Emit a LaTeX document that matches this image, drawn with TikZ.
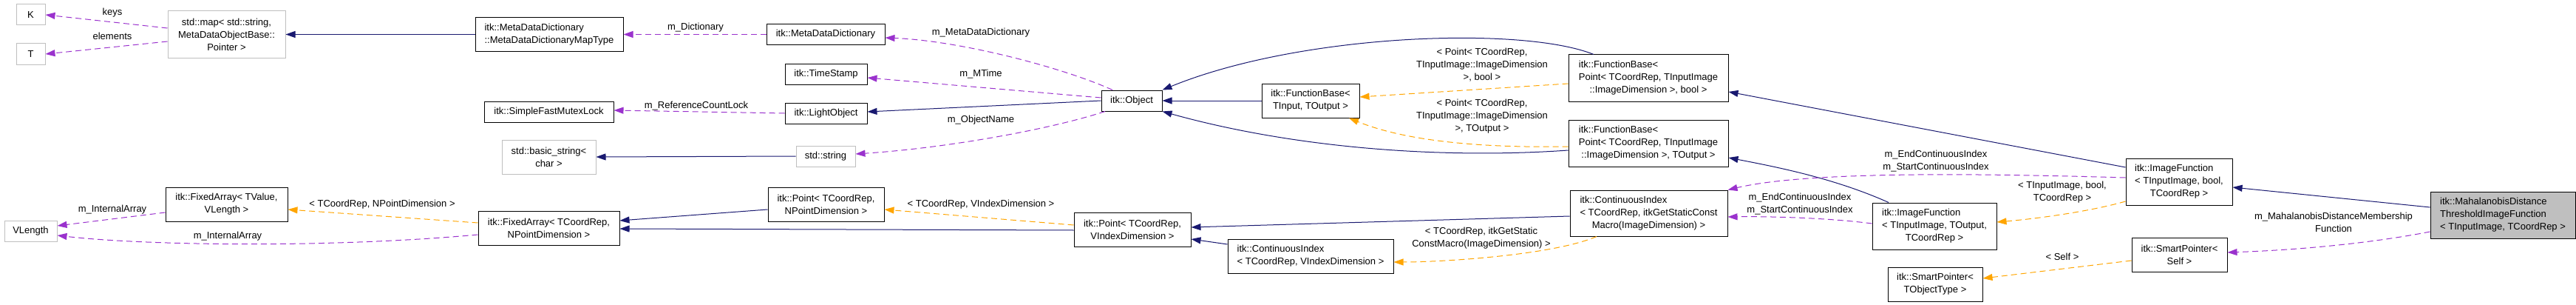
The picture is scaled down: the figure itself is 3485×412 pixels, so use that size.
\documentclass[tikz,border=0pt]{standalone}
\usepackage{fontspec}
\setmainfont{Liberation Sans}
\usetikzlibrary{arrows.meta}
\definecolor{midblue}{RGB}{25,25,112}
\definecolor{orchid}{RGB}{154,50,205}
\definecolor{tplorange}{RGB}{255,165,0}
\definecolor{grey75}{RGB}{191,191,191}
\newcommand{\dxfont}{\fontsize{13}{17}\selectfont}
\newcommand{\lft}[2]{\begin{tabular}{@{}l@{}}#1\\\multicolumn{1}{@{}c@{}}{#2}\end{tabular}}
\tikzset{
  sz/.style 2 args={minimum width=#1pt, minimum height=#2pt},
  cls/.style={draw=black, line width=1pt, fill=white, inner sep=0pt, font=\dxfont, align=center},
  ext/.style={cls, draw=grey75},
  root/.style={cls, fill=grey75},
  tip/.style={-{Triangle[length=13pt,width=9pt]}},
  inh/.style={draw=midblue, line width=1pt, tip},
  use/.style={draw=orchid, line width=1pt, dash pattern=on 8pt off 5pt, tip},
  tpl/.style={draw=tplorange, line width=1pt, dash pattern=on 8pt off 5pt, tip},
  lbl/.style={font=\dxfont, align=center, inner sep=0pt}
}
\begin{document}
\begin{tikzpicture}[x=1pt, y=-1pt]
 \useasboundingbox (0,0) rectangle (3485,412);

 % Klassen
 \node[ext, sz={39}{28}] (K) at (41.5,20) {K};
 \node[ext, sz={39}{28}] (T) at (41.5,73) {T};
 \node[ext, sz={159}{63}] (map) at (306.5,46.5) {std::map< std::string,\\MetaDataObjectBase::\\Pointer >};
 \node[ext, sz={71}{28}] (vlen) at (41.5,312) {VLength};
 \node[cls, sz={165}{46}] (faTV) at (306.5,276) {itk::FixedArray< TValue,\\VLength >};
 \node[cls, sz={200}{46}] (mapType) at (743,46.5) {\lft{itk::MetaDataDictionary}{::MetaDataDictionaryMapType}};
 \node[cls, sz={175}{28}] (mutex) at (742.5,151) {itk::SimpleFastMutexLock};
 \node[ext, sz={127}{46}] (basicStr) at (742.5,212) {std::basic\_string<\\char >};
 \node[cls, sz={191}{46}] (faN) at (742.5,308) {itk::FixedArray< TCoordRep,\\NPointDimension >};
 \node[cls, sz={160}{28}] (mdd) at (1117,46.5) {itk::MetaDataDictionary};
 \node[cls, sz={111}{28}] (timeStamp) at (1117.5,100) {itk::TimeStamp};
 \node[cls, sz={111}{28}] (lightObj) at (1117.5,153) {itk::LightObject};
 \node[ext, sz={80}{28}] (stdStr) at (1117,211) {std::string};
 \node[cls, sz={157}{46}] (pointN) at (1117.5,276) {itk::Point< TCoordRep,\\NPointDimension >};
 \node[cls, sz={82}{28}] (object) at (1531,136) {itk::Object};
 \node[cls, sz={158}{46}] (pointV) at (1532,310) {itk::Point< TCoordRep,\\VIndexDimension >};
 \node[cls, sz={132}{46}] (fbTT) at (1773,136) {itk::FunctionBase<\\TInput, TOutput >};
 \node[cls, sz={224}{46}] (ciV) at (1773,346) {\lft{itk::ContinuousIndex}{< TCoordRep, VIndexDimension >}};
 \node[cls, sz={216}{63}] (fbBool) at (2230,105.5) {\lft{itk::FunctionBase<\\Point< TCoordRep, TInputImage}{::ImageDimension >, bool >}};
 \node[cls, sz={216}{63}] (fbOut) at (2230,193.5) {\lft{itk::FunctionBase<\\Point< TCoordRep, TInputImage}{::ImageDimension >, TOutput >}};
 \node[cls, sz={213}{62}] (ciItk) at (2230.5,288) {\lft{itk::ContinuousIndex\\< TCoordRep, itkGetStaticConst}{Macro(ImageDimension) >}};
 \node[cls, sz={168}{63}] (ifOut) at (2617,305.5) {\lft{itk::ImageFunction\\< TInputImage, TOutput,}{TCoordRep >}};
 \node[cls, sz={128}{46}] (spTO) at (2618,384) {itk::SmartPointer<\\TObjectType >};
 \node[cls, sz={144}{63}] (ifBool) at (2948,245.5) {\lft{itk::ImageFunction\\< TInputImage, bool,}{TCoordRep >}};
 \node[cls, sz={129}{46}] (spSelf) at (2948.5,344) {itk::SmartPointer<\\Self >};
 \node[root, sz={196}{63}] (mahal) at (3386,290.5) {\lft{itk::MahalanobisDistance\\ThresholdImageFunction}{< TInputImage, TCoordRep >}};

 % Vererbung
 \draw[inh] (mapType.west) -- (map.east);
 \draw[inh] (stdStr.west) -- (basicStr.east);
 \draw[inh] (object.west) -- ([yshift=2pt]lightObj.east);
 \draw[inh] (fbTT.west) -- (object.east);
 \draw[inh] ([xshift=-74pt]fbBool.north) .. controls (2060,35) and (1760,45) .. (object.north east);
 \draw[inh] ([yshift=-9.5pt]fbOut.west) .. controls (1950,215) and (1750,200) .. (object.south east);
 \draw[inh] ([yshift=19.5pt]ifBool.west) -- ([yshift=-18.5pt]fbBool.east);
 \draw[inh] ([xshift=-62pt]ifOut.north) .. controls (2480,240) and (2400,225) .. ([yshift=-19.5pt]fbOut.east);
 \draw[inh] ([yshift=-4pt]ciItk.west) -- ([yshift=3pt]pointV.east);
 \draw[inh] ([yshift=16pt]ciV.west) -- ([yshift=-13pt]pointV.east);
 \draw[inh] ([yshift=-1pt]pointV.west) -- ([yshift=-1pt]faN.east);
 \draw[inh] ([yshift=-7pt]pointN.west) -- ([yshift=10pt]faN.east);
 \draw[inh] ([yshift=10.5pt]mahal.west) -- ([yshift=-7.5pt]ifBool.east);

 % Verwendung
 \draw[use] ([yshift=8.5pt]map.west) -- (K.east);
 \draw[use] ([yshift=-9.5pt]map.west) -- (T.east);
 \draw[use] (mdd.west) -- (mapType.east);
 \draw[use] (lightObj.west) -- ([yshift=2pt]mutex.east);
 \draw[use] ([xshift=-26pt]object.north) .. controls (1440,92) and (1300,55) .. ([yshift=-4.5pt]mdd.east);
 \draw[use] ([yshift=4pt]object.west) -- ([yshift=-5pt]timeStamp.east);
 \draw[use] ([xshift=-36pt]object.south) .. controls (1420,175) and (1280,200) .. ([yshift=3pt]stdStr.east);
 \draw[use] ([yshift=5.5pt]ifBool.west) .. controls (2700,235) and (2450,230) .. (ciItk.north east);
 \draw[use] ([yshift=3.5pt]ifOut.west) .. controls (2480,295) and (2400,292) .. ([yshift=-5pt]ciItk.east);
 \draw[use] ([yshift=-11pt]faTV.west) -- ([yshift=7pt]vlen.east);
 \draw[use] ([yshift=-9pt]faN.west) .. controls (450,335) and (200,332) .. ([yshift=-6pt]vlen.east);
 \draw[use] ([yshift=-22.5pt]mahal.west) .. controls (3200,330) and (3100,338) .. ([yshift=3pt]spSelf.east);

 % Template-Instanzen
 \draw[tpl] ([yshift=-7.5pt]fbBool.west) -- ([yshift=5pt]fbTT.east);
 \draw[tpl] ([yshift=-4.5pt]fbOut.west) .. controls (2000,200) and (1900,190) .. ([xshift=52pt]fbTT.south);
 \draw[tpl] ([xshift=-70.5pt]ciItk.south) .. controls (2100,345) and (1950,354) .. ([yshift=-8pt]ciV.east);
 \draw[tpl] ([yshift=6pt]pointV.west) -- ([yshift=-7pt]pointN.east);
 \draw[tpl] ([yshift=7pt]faN.west) -- ([yshift=-7pt]faTV.east);
 \draw[tpl] ([yshift=-8pt]spSelf.west) -- ([yshift=8pt]spTO.east);
 \draw[tpl] ([yshift=-26.5pt]ifBool.west) .. controls (2830,285) and (2760,295) .. ([yshift=5.5pt]ifOut.east);

 % Beschriftungen
 \node[lbl] (lKeys) at (152,17) {keys};
 \node[lbl] (lElem) at (152,49) {elements};
 \node[lbl] (lDict) at (941,37) {m\_Dictionary};
 \node[lbl] (lLock) at (942,143) {m\_ReferenceCountLock};
 \node[lbl] (lMdd) at (1327,44) {m\_MetaDataDictionary};
 \node[lbl] (lTime) at (1327,100) {m\_MTime};
 \node[lbl] (lName) at (1327,162) {m\_ObjectName};
 \node[lbl] (lPtBool) at (2005,88) {< Point< TCoordRep,\\TInputImage::ImageDimension\\>, bool >};
 \node[lbl] (lPtOut) at (2005,157) {< Point< TCoordRep,\\TInputImage::ImageDimension\\>, TOutput >};
 \node[lbl] (lCiItk) at (2004,322) {< TCoordRep, itkGetStatic\\ConstMacro(ImageDimension) >};
 \node[lbl] (lIdxTop) at (2619,218) {m\_EndContinuousIndex\\m\_StartContinuousIndex};
 \node[lbl] (lIdxLow) at (2435,276) {m\_EndContinuousIndex\\m\_StartContinuousIndex};
 \node[lbl] (lIfBool) at (2790,260) {< TInputImage, bool,\\TCoordRep >};
 \node[lbl] (lMember) at (3157,300) {m\_MahalanobisDistanceMembership\\Function};
 \node[lbl] (lSelf) at (2790,347) {< Self >};
 \node[lbl] (lPtV) at (1327,276) {< TCoordRep, VIndexDimension >};
 \node[lbl] (lFaN) at (517,276) {< TCoordRep, NPointDimension >};
 \node[lbl] (lArrA) at (152,283) {m\_InternalArray};
 \node[lbl] (lArrB) at (308,319) {m\_InternalArray};
\end{tikzpicture}
\end{document}
